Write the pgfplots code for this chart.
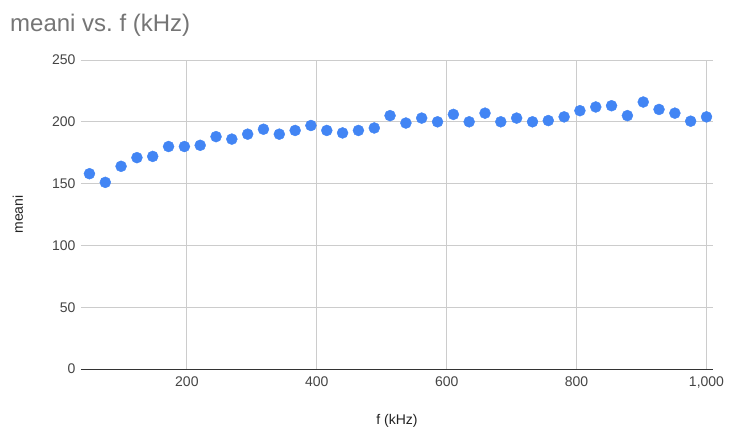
\documentclass[border=0pt]{standalone}
\usepackage{fontspec}
\setmainfont{Liberation Sans}
\usepackage{pgfplots}
\pgfplotsset{compat=1.18}
\definecolor{gblue}{HTML}{4285F4}
\definecolor{titlegray}{HTML}{757575}
\definecolor{gridgray}{HTML}{CCCCCC}
\definecolor{zeroline}{HTML}{333333}
\definecolor{ticktext}{HTML}{444444}
\definecolor{labeltext}{HTML}{222222}

\begin{document}
\begin{tikzpicture}
\path[use as bounding box] (0pt,0pt) rectangle (733pt,437pt);
\node[anchor=base west, inner sep=0, text=titlegray,
      font=\fontsize{24}{28}\selectfont] at (10pt,405pt) {meani vs.\ f (kHz)};
\begin{axis}[
    at={(81pt,68pt)}, anchor=south west,
    scale only axis, width=632pt, height=309pt,
    xmin=37, xmax=1010, ymin=0, ymax=250,
    xtick={200,400,600,800,1000},
    ytick={50,100,150,200,250},
    extra y ticks={0},
    extra y tick style={grid style={draw=zeroline, line width=1pt}},
    xmajorgrids, ymajorgrids,
    grid style={draw=gridgray, line width=0.8pt},
    axis line style={draw=none},
    tick style={draw=none},
    /pgf/number format/assume math mode=true,
    /pgf/number format/1000 sep={,},
    ticklabel style={font=\fontsize{14}{16}\selectfont, text=ticktext},
    xticklabel style={yshift=-4pt},
    yticklabel style={xshift=-2pt},
    xlabel={f (kHz)},
    ylabel={meani},
    label style={font=\fontsize{14}{16}\selectfont, text=labeltext},
    xlabel style={at={(axis description cs:0.5,-0.168)}, anchor=center},
    ylabel style={at={(axis description cs:-0.0997,0.5)}, anchor=center},
    clip=false,
]
\addplot[only marks, mark=*, mark size=5.5pt, draw=gblue, fill=gblue]
coordinates {
(50.0,158) (74.4,151) (98.7,164) (123.1,171) (147.4,172)
(171.8,180) (196.2,180) (220.5,181) (244.9,188) (269.2,186)
(293.6,190) (317.9,194) (342.3,190) (366.7,193) (391.0,197)
(415.4,193) (439.7,191) (464.1,193) (488.5,195) (512.8,205)
(537.2,199) (561.5,203) (585.9,200) (610.3,206) (634.6,200)
(659.0,207) (683.3,200) (707.7,203) (732.1,200) (756.4,201)
(780.8,204) (805.1,209) (829.5,212) (853.8,213) (878.2,205)
(902.6,216) (926.9,210) (951.3,207) (975.6,200.5) (1000.0,204)
};
\end{axis}
\end{tikzpicture}
\end{document}
